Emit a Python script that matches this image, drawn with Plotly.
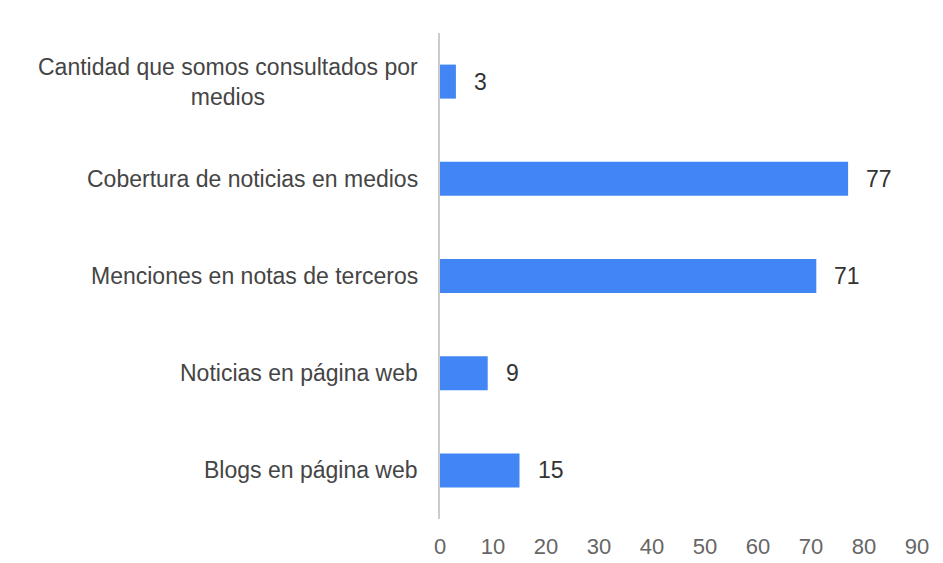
import plotly.graph_objects as go

categorias = [
    "Cantidad que somos consultados por<br>medios",
    "Cobertura de noticias en medios",
    "Menciones en notas de terceros",
    "Noticias en página web",
    "Blogs en página web",
]
valores = [3, 77, 71, 9, 15]
x_ticks = [0, 10, 20, 30, 40, 50, 60, 70, 80, 90]

FONT = "Liberation Sans, Arial, sans-serif"
AZUL = "#4285f4"

fig = go.Figure(go.Bar(
    x=valores, y=categorias, orientation="h",
    marker=dict(color=AZUL, line=dict(width=0)),
    hoverinfo="skip",
))

# etiquetas de categoria (centradas, como en el original)
for cat in categorias:
    fig.add_annotation(
        xref="paper", x=0, yref="y", y=cat, text=cat, showarrow=False,
        xanchor="right", xshift=-20, align="center",
        font=dict(family=FONT, size=23, color="#454545"),
    )

# valores al final de cada barra
for cat, v in zip(categorias, valores):
    fig.add_annotation(
        xref="x", x=v, yref="y", y=cat, text=str(v), showarrow=False,
        xanchor="left", xshift=16,
        font=dict(family=FONT, size=23, color="#333333"),
    )

# la pagina tiene 8px de margen en body, se compensa aqui
fig.update_layout(
    width=943, height=563,
    margin=dict(l=432, r=34, t=25, b=38),
    paper_bgcolor="white", plot_bgcolor="white",
    bargap=0.65, showlegend=False,
    font=dict(family=FONT),
)
fig.update_xaxes(
    range=[0, 90], tickvals=x_ticks, showgrid=False, zeroline=False,
    showline=False, ticks="", ticklabelstandoff=12,
    tickfont=dict(family=FONT, size=22, color="#666666"),
)
fig.update_yaxes(
    autorange="reversed", showticklabels=False, showgrid=False,
    zeroline=False, showline=True, linecolor="#cccccc", linewidth=2, ticks="",
)

fig.write_html("out.html")
